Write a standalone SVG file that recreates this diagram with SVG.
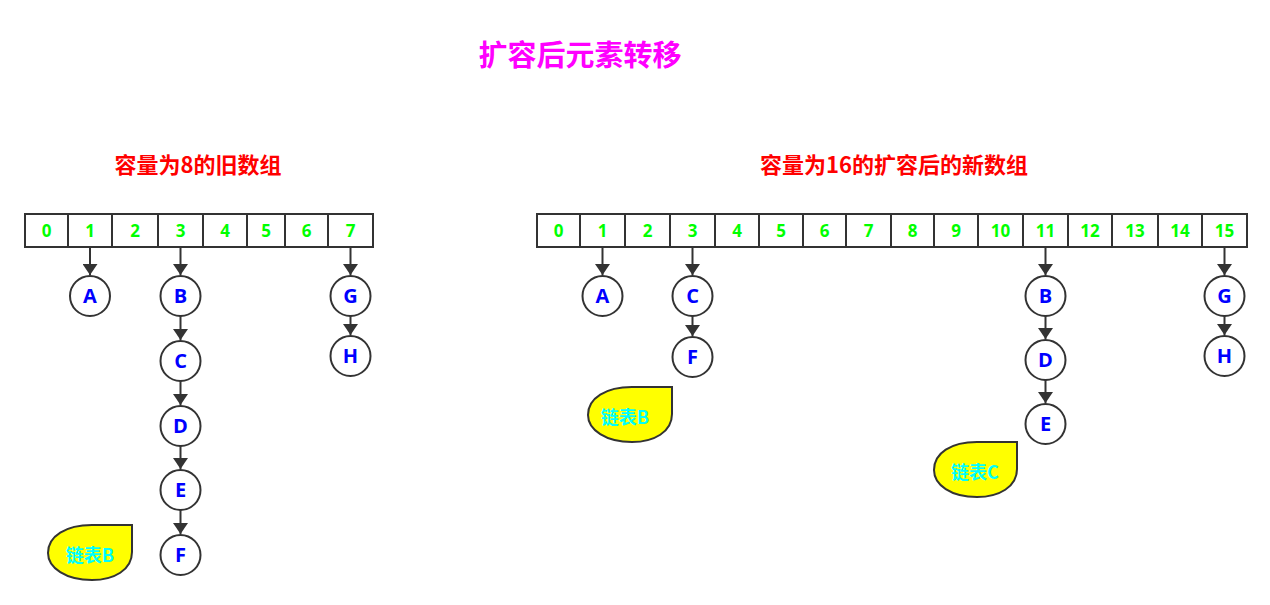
<svg xmlns="http://www.w3.org/2000/svg" width="1270" height="605" viewBox="0 0 1270 605">
<defs>
<style>
.cell{fill:#fff;stroke:#333;stroke-width:2}
.num{fill:#00ff00;font-family:"Open Sans","Noto Sans CJK SC",sans-serif;font-weight:bold;font-size:17px;text-anchor:middle}
.node circle{fill:#fff;stroke:#333;stroke-width:2}
.lbl{fill:#0000ff;font-family:"Open Sans","Noto Sans CJK SC",sans-serif;font-weight:bold;font-size:20px;text-anchor:middle}
.edge{stroke:#333;stroke-width:2;fill:none;marker-end:url(#ah)}
.blob{fill:#ffff00;stroke:#333;stroke-width:2}
.btxt{fill:#00ffff;font-family:"Noto Sans CJK SC",sans-serif;font-weight:bold;font-size:18px;text-anchor:middle}
.title{font-family:"Noto Sans CJK SC",sans-serif;font-weight:bold;text-anchor:middle}
</style>
<marker id="ah" viewBox="0 0 11 15" refX="11" refY="7.5" markerWidth="11" markerHeight="15" markerUnits="userSpaceOnUse" orient="auto">
<path d="M0,0 L11,7.5 L0,15 Z" fill="#333"/>
</marker>
</defs>
<rect width="1270" height="605" fill="#fff"/>
<text class="title" x="580" y="66" font-size="29" fill="#ff00ff">扩容后元素转移</text>
<text class="title" x="198" y="173" font-size="22" fill="#ff0000">容量为8的旧数组</text>
<text class="title" x="894" y="173" font-size="22" fill="#ff0000">容量为16的扩容后的新数组</text>

<g id="old-array">
<rect class="cell" x="25" y="214" width="43" height="33"/>
<rect class="cell" x="68" y="214" width="44" height="33"/>
<rect class="cell" x="112" y="214" width="46" height="33"/>
<rect class="cell" x="158" y="214" width="45" height="33"/>
<rect class="cell" x="203" y="214" width="44" height="33"/>
<rect class="cell" x="247" y="214" width="38" height="33"/>
<rect class="cell" x="285" y="214" width="43" height="33"/>
<rect class="cell" x="328" y="214" width="45" height="33"/>
<text class="num" x="46.5" y="237">0</text>
<text class="num" x="90" y="237">1</text>
<text class="num" x="135" y="237">2</text>
<text class="num" x="180.5" y="237">3</text>
<text class="num" x="225" y="237">4</text>
<text class="num" x="266" y="237">5</text>
<text class="num" x="306.5" y="237">6</text>
<text class="num" x="350.5" y="237">7</text>
</g>

<g id="new-array">
<rect class="cell" x="537" y="214" width="43" height="33"/>
<rect class="cell" x="580" y="214" width="45" height="33"/>
<rect class="cell" x="625" y="214" width="45" height="33"/>
<rect class="cell" x="670" y="214" width="45" height="33"/>
<rect class="cell" x="715" y="214" width="44" height="33"/>
<rect class="cell" x="759" y="214" width="44" height="33"/>
<rect class="cell" x="803" y="214" width="43" height="33"/>
<rect class="cell" x="846" y="214" width="45" height="33"/>
<rect class="cell" x="891" y="214" width="43" height="33"/>
<rect class="cell" x="934" y="214" width="44" height="33"/>
<rect class="cell" x="978" y="214" width="45" height="33"/>
<rect class="cell" x="1023" y="214" width="45" height="33"/>
<rect class="cell" x="1068" y="214" width="44" height="33"/>
<rect class="cell" x="1112" y="214" width="46" height="33"/>
<rect class="cell" x="1158" y="214" width="44" height="33"/>
<rect class="cell" x="1202" y="214" width="45" height="33"/>
<text class="num" x="558.5" y="237">0</text>
<text class="num" x="602.5" y="237">1</text>
<text class="num" x="647.5" y="237">2</text>
<text class="num" x="692.5" y="237">3</text>
<text class="num" x="737" y="237">4</text>
<text class="num" x="781" y="237">5</text>
<text class="num" x="824.5" y="237">6</text>
<text class="num" x="868.5" y="237">7</text>
<text class="num" x="912.5" y="237">8</text>
<text class="num" x="956" y="237">9</text>
<text class="num" x="1000.5" y="237">10</text>
<text class="num" x="1045.5" y="237">11</text>
<text class="num" x="1090" y="237">12</text>
<text class="num" x="1135" y="237">13</text>
<text class="num" x="1180" y="237">14</text>
<text class="num" x="1224.5" y="237">15</text>
</g>

<g id="connectors">
<line class="edge" x1="90" y1="247" x2="90" y2="275"/>
<line class="edge" x1="180.5" y1="247" x2="180.5" y2="275"/>
<line class="edge" x1="350.5" y1="247" x2="350.5" y2="275"/>
<line class="edge" x1="180.5" y1="316" x2="180.5" y2="340"/>
<line class="edge" x1="180.5" y1="381" x2="180.5" y2="405"/>
<line class="edge" x1="180.5" y1="446" x2="180.5" y2="469"/>
<line class="edge" x1="180.5" y1="510" x2="180.5" y2="534"/>
<line class="edge" x1="350.5" y1="316" x2="350.5" y2="335"/>
<line class="edge" x1="602.5" y1="247" x2="602.5" y2="275"/>
<line class="edge" x1="692.5" y1="247" x2="692.5" y2="275"/>
<line class="edge" x1="1045.5" y1="247" x2="1045.5" y2="275"/>
<line class="edge" x1="1224.5" y1="247" x2="1224.5" y2="275"/>
<line class="edge" x1="692.5" y1="316" x2="692.5" y2="336"/>
<line class="edge" x1="1045.5" y1="316" x2="1045.5" y2="339"/>
<line class="edge" x1="1045.5" y1="380" x2="1045.5" y2="403"/>
<line class="edge" x1="1224.5" y1="316" x2="1224.5" y2="335"/>
</g>

<g id="old-A" class="node"><circle cx="90" cy="296" r="20"/><text class="lbl" x="90" y="303">A</text></g>
<g id="old-B" class="node"><circle cx="180.5" cy="296" r="20"/><text class="lbl" x="180.5" y="303">B</text></g>
<g id="old-C" class="node"><circle cx="180.5" cy="361" r="20"/><text class="lbl" x="180.5" y="368">C</text></g>
<g id="old-D" class="node"><circle cx="180.5" cy="426" r="20"/><text class="lbl" x="180.5" y="433">D</text></g>
<g id="old-E" class="node"><circle cx="180.5" cy="490" r="20"/><text class="lbl" x="180.5" y="497">E</text></g>
<g id="old-F" class="node"><circle cx="180.5" cy="555" r="20"/><text class="lbl" x="180.5" y="562">F</text></g>
<g id="old-G" class="node"><circle cx="350.5" cy="296" r="20"/><text class="lbl" x="350.5" y="303">G</text></g>
<g id="old-H" class="node"><circle cx="350.5" cy="356" r="20"/><text class="lbl" x="350.5" y="363">H</text></g>

<g id="new-A" class="node"><circle cx="602.5" cy="296" r="20"/><text class="lbl" x="602.5" y="303">A</text></g>
<g id="new-C" class="node"><circle cx="692.5" cy="296" r="20"/><text class="lbl" x="692.5" y="303">C</text></g>
<g id="new-F" class="node"><circle cx="692.5" cy="357" r="20"/><text class="lbl" x="692.5" y="364">F</text></g>
<g id="new-B" class="node"><circle cx="1045.5" cy="296" r="20"/><text class="lbl" x="1045.5" y="303">B</text></g>
<g id="new-D" class="node"><circle cx="1045.5" cy="360" r="20"/><text class="lbl" x="1045.5" y="367">D</text></g>
<g id="new-E" class="node"><circle cx="1045.5" cy="424" r="20"/><text class="lbl" x="1045.5" y="431">E</text></g>
<g id="new-G" class="node"><circle cx="1224.5" cy="296" r="20"/><text class="lbl" x="1224.5" y="303">G</text></g>
<g id="new-H" class="node"><circle cx="1224.5" cy="356" r="20"/><text class="lbl" x="1224.5" y="363">H</text></g>

<g id="blob-old-B">
<path class="blob" d="M132,525 V552 C132,570 114,580 92,580 C66,580 48,568 48,553 C48,536 66,525 92,525 Z"/>
<text class="btxt" x="90" y="562">链表B</text>
</g>
<g id="blob-new-B">
<path class="blob" d="M672,387 V414 C672,432 654,442 632,442 C606,442 588,430 588,415 C588,398 606,387 632,387 Z"/>
<text class="btxt" x="625" y="424">链表B</text>
</g>
<g id="blob-new-C">
<path class="blob" d="M1017,442 V469 C1017,487 999,497 977,497 C951,497 934,485 934,470 C934,453 951,442 977,442 Z"/>
<text class="btxt" x="975" y="479">链表C</text>
</g>
</svg>
